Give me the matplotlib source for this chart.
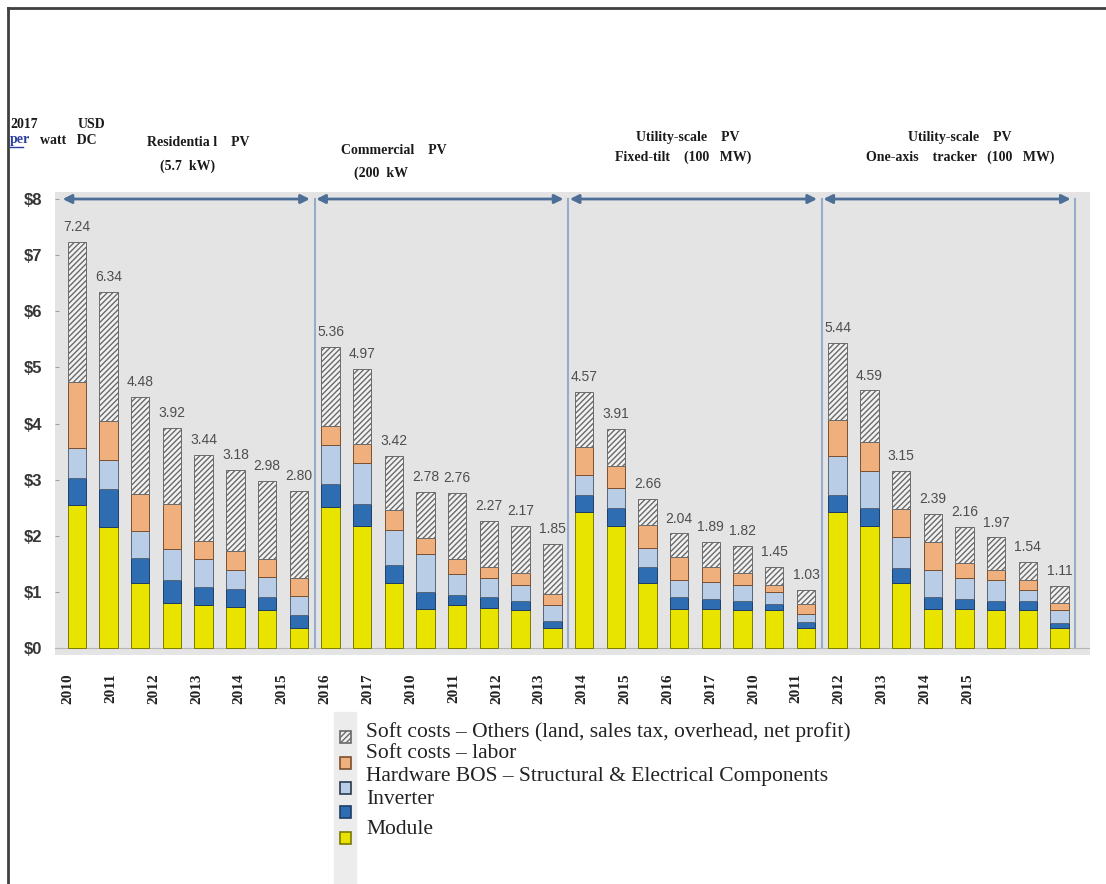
import numpy as np
import matplotlib.pyplot as plt
from matplotlib.patches import Rectangle
from matplotlib.lines import Line2D

# Installed PV system cost, 2017 USD per watt DC
segments = ["Residential", "Commercial", "Utility fixed", "Utility tracker"]
tick_years = ["2010", "2011", "2012", "2013", "2014", "2015", "2016", "2017",
              "2010", "2011", "2012", "2013", "2014", "2015", "2016", "2017",
              "2010", "2011", "2012", "2013", "2014", "2015"]

totals = [7.24, 6.34, 4.48, 3.92, 3.44, 3.18, 2.98, 2.80,
          5.36, 4.97, 3.42, 2.78, 2.76, 2.27, 2.17, 1.85,
          4.57, 3.91, 2.66, 2.04, 1.89, 1.82, 1.45, 1.03,
          5.44, 4.59, 3.15, 2.39, 2.16, 1.97, 1.54, 1.11]
module = [2.55, 2.16, 1.15, 0.80, 0.76, 0.73, 0.68, 0.36,
          2.52, 2.18, 1.15, 0.70, 0.76, 0.72, 0.68, 0.36,
          2.42, 2.18, 1.15, 0.70, 0.70, 0.68, 0.68, 0.36,
          2.42, 2.18, 1.15, 0.70, 0.70, 0.68, 0.68, 0.35]
inverter = [0.48, 0.67, 0.46, 0.42, 0.32, 0.32, 0.22, 0.23,
            0.41, 0.38, 0.32, 0.30, 0.19, 0.18, 0.15, 0.12,
            0.31, 0.32, 0.29, 0.21, 0.17, 0.15, 0.11, 0.11,
            0.31, 0.32, 0.27, 0.21, 0.17, 0.15, 0.15, 0.10]
hardware_bos = [0.53, 0.52, 0.47, 0.54, 0.50, 0.34, 0.37, 0.34,
                0.68, 0.73, 0.64, 0.67, 0.37, 0.34, 0.30, 0.28,
                0.36, 0.35, 0.34, 0.30, 0.30, 0.30, 0.21, 0.14,
                0.69, 0.65, 0.55, 0.48, 0.37, 0.38, 0.20, 0.22]
soft_labor = [1.18, 0.69, 0.67, 0.80, 0.33, 0.34, 0.32, 0.31,
              0.35, 0.35, 0.34, 0.29, 0.27, 0.20, 0.20, 0.21,
              0.50, 0.40, 0.41, 0.41, 0.28, 0.20, 0.13, 0.18,
              0.64, 0.52, 0.51, 0.49, 0.28, 0.18, 0.18, 0.14]

module = np.array(module)
inverter = np.array(inverter)
hardware_bos = np.array(hardware_bos)
soft_labor = np.array(soft_labor)
totals = np.array(totals)
soft_other = totals - module - inverter - hardware_bos - soft_labor

plt.rcParams['hatch.color'] = '#555555'
plt.rcParams['hatch.linewidth'] = 1.0

fig = plt.figure(figsize=(11.06, 8.84), dpi=100)
ax = fig.add_axes([55 / 1106, 1 - 655 / 884, 1035 / 1106, 463 / 884])
ax.set_facecolor('#e4e4e4')

x = np.arange(len(totals))
w = 0.58
bottom = np.zeros(len(totals))
layers = [
    (module, '#e9e300', '#7d7a00', None),
    (inverter, '#2f6db3', '#1d3d66', None),
    (hardware_bos, '#b9cde6', '#56657a', None),
    (soft_labor, '#f0b07e', '#7a5030', None),
    (soft_other, '#f2f2f2', '#6a6a6a', '//////'),
]
for vals, fc, ec, hatch in layers:
    ax.bar(x, vals, w, bottom=bottom, color=fc, edgecolor=ec,
           linewidth=0.7, hatch=hatch, zorder=3)
    bottom += vals

for xi, t in zip(x, totals):
    ax.text(xi, t + 0.14, f"{t:.2f}", ha='center', va='bottom', fontsize=10,
            color='#4e4e4e', family='Liberation Sans', zorder=4)

# group dividers and span arrows
for g in range(len(segments)):
    ax.plot([8 * g + 7.5, 8 * g + 7.5], [0, 8], color='#98abca', lw=1.5, zorder=2)
    ax.annotate('', xy=(8 * g + 7.35, 8), xytext=(8 * g - 0.45, 8),
                arrowprops=dict(arrowstyle='<|-|>', color='#4d6e96', lw=2,
                                mutation_scale=13, shrinkA=0, shrinkB=0),
                zorder=4)
ax.axhline(0, color='#b4b4b4', lw=0.8, zorder=2)

ax.set_xlim(-0.69, 31.96)
ax.set_ylim(-0.125, 8.125)
ax.set_yticks(range(9))
ax.set_yticklabels([f"${v}" for v in range(9)], fontsize=12, color='#363636',
                   fontweight='bold', family='Liberation Sans')
ax.tick_params(axis='y', length=3, direction='in', color='#a0a0a0', pad=9)
ax.set_xticks(np.linspace(-0.28, 28.1, len(tick_years)))
ax.set_xticklabels(tick_years, rotation=90, fontsize=11, fontweight='bold',
                   family='Liberation Serif', color='#222222')
ax.tick_params(axis='x', length=0, pad=13)
for s in ax.spines.values():
    s.set_visible(False)

# header texts
hdr = dict(family='Liberation Serif', fontweight='bold', fontsize=10,
           color='#1a1a1a')
fig.text(10 / 1106, 1 - 125 / 884, "2017", va='center', **hdr)
fig.text(78 / 1106, 1 - 125 / 884, "USD", va='center', **hdr)
fig.text(10 / 1106, 1 - 140 / 884, "per", va='center',
         **{**hdr, 'color': '#2b3f9e'})
fig.add_artist(Line2D([10 / 1106, 23 / 1106], [1 - 147 / 884, 1 - 147 / 884],
                      color='#2b3f9e', lw=1))
fig.text(40 / 1106, 1 - 140 / 884, "watt   DC", va='center', **hdr)
fig.text(198 / 1106, 1 - 142 / 884, "Residentia l    PV", ha='center', va='center', **hdr)
fig.text(188 / 1106, 1 - 166 / 884, "(5.7  kW)", ha='center', va='center', **hdr)
fig.text(394 / 1106, 1 - 151 / 884, "Commercial    PV", ha='center', va='center', **hdr)
fig.text(381 / 1106, 1 - 173 / 884, "(200  kW", ha='center', va='center', **hdr)
fig.text(688 / 1106, 1 - 137 / 884, "Utility-scale    PV", ha='center', va='center', **hdr)
fig.text(683 / 1106, 1 - 157 / 884, "Fixed-tilt    (100   MW)", ha='center', va='center', **hdr)
fig.text(960 / 1106, 1 - 137 / 884, "Utility-scale    PV", ha='center', va='center', **hdr)
fig.text(960 / 1106, 1 - 157 / 884, "One-axis    tracker   (100   MW)", ha='center', va='center', **hdr)

# legend
fig.add_artist(Rectangle((334 / 1106, 0), 22 / 1106, 172 / 884,
                         transform=fig.transFigure, color='#ececec', zorder=0))
leg_boxes = [(737, '#f2f2f2', '#6a6a6a', '//////'),
             (763, '#f0b07e', '#7a5030', None),
             (788, '#b9cde6', '#2d3a4d', None),
             (812, '#2f6db3', '#1d3d66', None),
             (838, '#e9e300', '#7d7a00', None)]
for yb, fc, ec, hatch in leg_boxes:
    fig.add_artist(Rectangle((340 / 1106, 1 - (yb + 6) / 884), 11 / 1106, 12 / 884,
                             transform=fig.transFigure, facecolor=fc, edgecolor=ec,
                             lw=1.2, hatch=hatch, zorder=2))
leg_texts = [(732, "Soft costs – Others (land, sales tax, overhead, net profit)"),
             (753, "Soft costs – labor"),
             (777, "Hardware BOS – Structural & Electrical Components"),
             (800, "Inverter"),
             (830, "Module")]
for yt, txt in leg_texts:
    fig.text(366 / 1106, 1 - yt / 884, txt, va='center', fontsize=15.5,
             family='Liberation Serif', color='#222222')

# outer frame
fig.add_artist(Line2D([8 / 1106, 1], [1 - 8 / 884, 1 - 8 / 884], color='#404040', lw=2))
fig.add_artist(Line2D([8 / 1106, 8 / 1106], [0, 1 - 8 / 884], color='#404040', lw=2))

fig.savefig('out.png', dpi=100)
